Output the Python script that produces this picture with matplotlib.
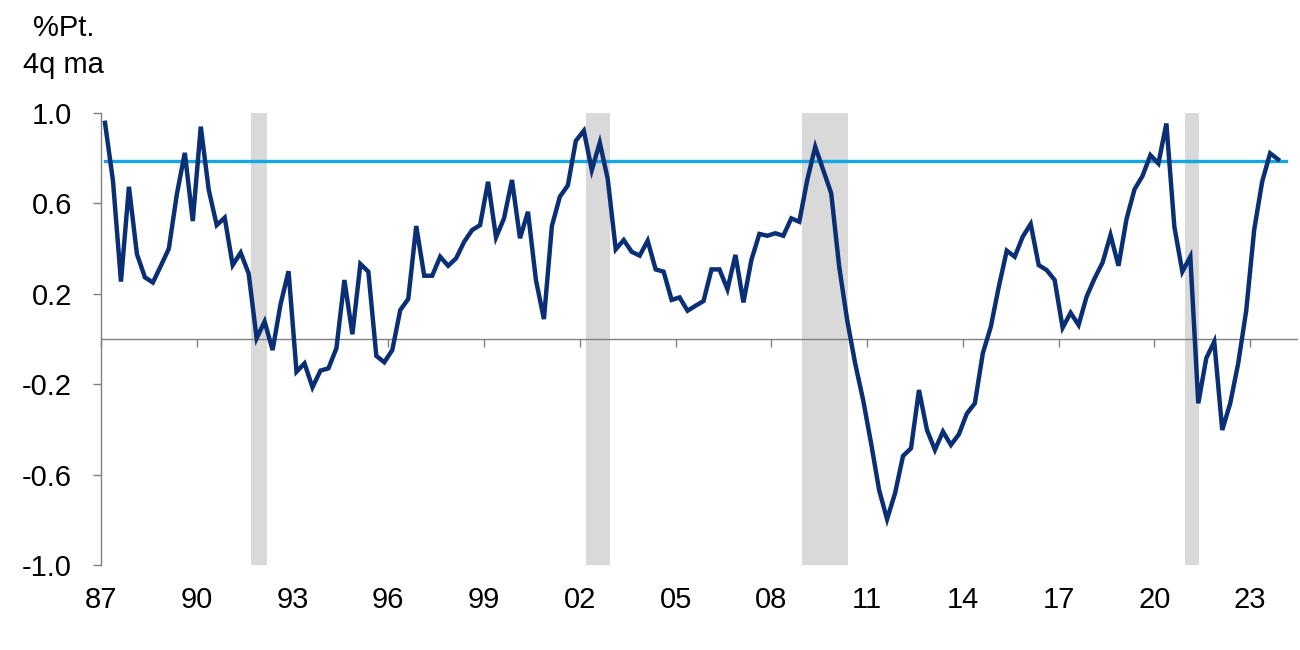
import numpy as np
import matplotlib
matplotlib.use("Agg")
import matplotlib.pyplot as plt

plt.rcParams['font.family'] = ['Liberation Sans', 'DejaVu Sans']

# quarterly values, 1987Q1 .. 2023Q4 (%Pt., 4q moving average)
values = [
    0.957, 0.70, 0.254, 0.674, 0.376, 0.273, 0.25, 0.324, 0.40, 0.64,
    0.824, 0.522, 0.94, 0.66, 0.504, 0.537, 0.327, 0.382, 0.29, 0.003,
    0.077, -0.049, 0.154, 0.30, -0.145, -0.108, -0.214, -0.14, -0.13, -0.041,
    0.261, 0.021, 0.332, 0.298, -0.075, -0.103, -0.049, 0.128, 0.177, 0.50,
    0.28, 0.28, 0.364, 0.324, 0.357, 0.43, 0.482, 0.504, 0.696, 0.45,
    0.534, 0.704, 0.446, 0.563, 0.261, 0.088, 0.50, 0.63, 0.68, 0.877,
    0.922, 0.748, 0.869, 0.708, 0.397, 0.438, 0.386, 0.369, 0.435, 0.308,
    0.298, 0.173, 0.184, 0.125, 0.147, 0.168, 0.308, 0.308, 0.22, 0.372,
    0.162, 0.35, 0.465, 0.457, 0.468, 0.457, 0.534, 0.519, 0.704, 0.851,
    0.748, 0.645, 0.32, 0.084, -0.108, -0.27, -0.462, -0.668, -0.798, -0.683,
    -0.518, -0.484, -0.226, -0.403, -0.491, -0.41, -0.469, -0.422, -0.33, -0.285,
    -0.063, 0.054, 0.231, 0.391, 0.364, 0.453, 0.509, 0.327, 0.305, 0.261,
    0.05, 0.116, 0.062, 0.187, 0.268, 0.338, 0.46, 0.324, 0.53, 0.662,
    0.721, 0.814, 0.777, 0.954, 0.497, 0.298, 0.364, -0.285, -0.085, -0.012,
    -0.403, -0.285, -0.108, 0.124, 0.482, 0.696, 0.822, 0.795,
]
start_year = 1987
reference_level = 0.79
n_reference_quarters = 149  # reference line runs to 2024Q1

# recession periods (start, end) in fractional years
recessions = [(1991.7, 1992.2), (2002.2, 2002.95), (2008.95, 2010.4), (2020.95, 2021.4)]

tick_years = list(range(1987, 2024, 3))
tick_labels = ["%02d" % (y % 100) for y in tick_years]
y_ticks = [-1.0, -0.6, -0.2, 0.2, 0.6, 1.0]

navy = "#0b2f74"
light_blue = "#14a7e3"
grey = "#808080"
fs = 21

x = start_year + (np.arange(len(values)) + 0.5) / 4
x_ref = start_year + (np.arange(n_reference_quarters) + 0.5) / 4

fig = plt.figure(figsize=(13, 6.5), dpi=100)
ax = fig.add_axes([0.0777, 0.131, 0.9208, 0.695])

for a, b in recessions:
    ax.axvspan(a, b, color="#d9d9d9", lw=0, zorder=0)

ax.axhline(0, color=grey, lw=1.0, zorder=1)
ax.plot(x_ref, np.full(len(x_ref), reference_level), color=light_blue, lw=2.4, zorder=2)
ax.plot(x, values, color=navy, lw=3.2, zorder=3, solid_joinstyle="miter")

ax.set_xlim(start_year, 2024.5)
ax.set_ylim(-1.0, 1.0)

for s in ["top", "right"]:
    ax.spines[s].set_visible(False)
ax.spines["left"].set_color(grey)
ax.spines["left"].set_linewidth(1.0)
ax.spines["bottom"].set_position(("data", 0))
ax.spines["bottom"].set_visible(False)

ax.set_yticks(y_ticks)
ax.set_yticklabels(["%.1f" % v for v in y_ticks])
ax.tick_params(axis="y", length=6, width=1.0, color=grey, labelsize=fs, pad=15)

ax.set_xticks(tick_years)
ax.tick_params(axis="x", length=6, width=1.0, color=grey, direction="out",
               labelbottom=False)

sec = ax.secondary_xaxis("bottom")
sec.set_xticks(tick_years)
sec.set_xticklabels(tick_labels)
sec.tick_params(length=0, labelsize=fs, pad=15)
sec.spines["bottom"].set_visible(False)

fig.text(0.049, 0.945, "%Pt.", fontsize=fs, ha="center", va="baseline")
fig.text(0.049, 0.888, "4q ma", fontsize=fs, ha="center", va="baseline")

fig.savefig("out.png", dpi=100)
